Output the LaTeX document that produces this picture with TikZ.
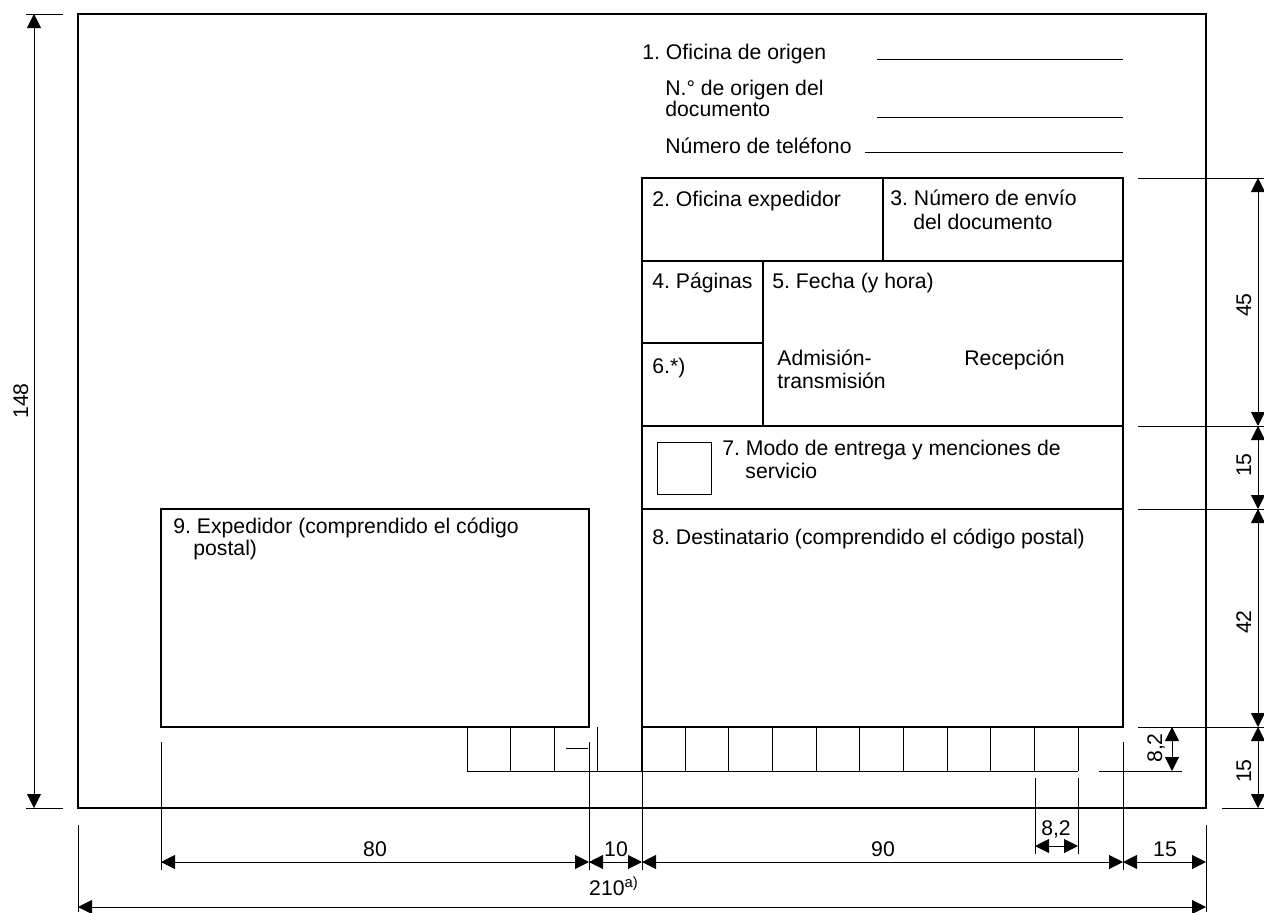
\documentclass[tikz,border=0pt]{standalone}
\usepackage{fontspec}
\setmainfont{Liberation Sans}
\usetikzlibrary{arrows.meta}
\frenchspacing
\begin{document}
\begin{tikzpicture}[x=0.5pt,y=-0.5pt,
  lbl/.style={anchor=base west, inner sep=0pt, font=\fontsize{10.6}{11.75}\selectfont},
  dimlbl/.style={anchor=base, inner sep=0pt, font=\fontsize{10.6}{11.75}\selectfont},
  vdimlbl/.style={dimlbl, rotate=90},
  box/.style={line width=0.65pt},
  thin/.style={line width=0.45pt},
  dim/.style={line width=0.45pt, {Triangle[length=7pt,width=7pt]}-{Triangle[length=7pt,width=7pt]}},
]
\useasboundingbox (0,0) rectangle (1264,912);
% sheet
\draw[box] (78,14) rectangle (1206,808);

% header lines
\node[lbl] (t1) at (642,59) {1. Oficina de origen};
\draw[thin] (877,59) -- (1123,59);
\node[lbl] (t1b) at (665,95) {N.° de origen del};
\node[lbl] (t1c) at (665,116) {documento};
\draw[thin] (877,117) -- (1123,117);
\node[lbl] (t1d) at (665,153) {Número de teléfono};
\draw[thin] (865,152) -- (1123,152);

% form boxes
\draw[box] (642,178) rectangle (1123,509);
\draw[box] (642,261) -- (1123,261);
\draw[box] (883,178) -- (883,261);
\draw[box] (763,261) -- (763,426);
\draw[box] (642,343) -- (763,343);
\draw[box] (642,426) -- (1123,426);
\draw[thin] (657,442) rectangle (711,494);
\draw[box] (642,509) rectangle (1123,727);
\draw[box] (161,509) rectangle (589,727);

% texts in boxes
\node[lbl] (t2) at (652,206) {2. Oficina expedidor};
\node[lbl] (t3a) at (890,205) {3. Número de envío};
\node[lbl] (t3b) at (913,229) {del documento};
\node[lbl] (t4) at (652,288) {4. Páginas};
\node[lbl] (t5) at (772,288) {5. Fecha (y hora)};
\node[lbl] (t6) at (652,373) {6.*)};
\node[lbl] (t5a) at (777,365) {Admisión-};
\node[lbl] (t5b) at (777,388) {transmisión};
\node[lbl] (t5c) at (964,365) {Recepción};
\node[lbl] (t7a) at (722,455) {7. Modo de entrega y menciones de};
\node[lbl] (t7b) at (745,478) {servicio};
\node[lbl] (t8) at (652,544) {8. Destinatario (comprendido el código postal)};
\node[lbl] (t9a) at (173,533) {9. Expedidor (comprendido el código};
\node[lbl] (t9b) at (193,555) {postal)};

% row of squares
\foreach \i in {0,...,14} \draw[thin] ({467+\i*43.64},727) -- ({467+\i*43.64},771);
\draw[thin] (467,771) -- (1078,771);
\draw[thin] (566,748) -- (588,748);

% extension lines
\draw[thin] (161,742) -- (161,870);
\draw[thin] (589,742) -- (589,870);
\draw[thin] (642,727) -- (642,870);
\draw[thin] (1123,742) -- (1123,870);
\draw[thin] (1206,825) -- (1206,912);
\draw[thin] (78,825) -- (78,912);
\draw[thin] (1035,778) -- (1035,854);
\draw[thin] (1078,778) -- (1078,854);
\draw[thin] (26,14) -- (63,14);
\draw[thin] (26,808) -- (63,808);
\draw[thin] (1138,178) -- (1264,178);
\draw[thin] (1138,426) -- (1264,426);
\draw[thin] (1138,509) -- (1264,509);
\draw[thin] (1138,727) -- (1264,727);
\draw[thin] (1222,808) -- (1264,808);
\draw[thin] (1099,771) -- (1182,771);

% dimensions
\draw[dim] (34,14) -- (34,808);
\node[vdimlbl] (d148) at (28,401) {148};
\draw[dim] (1258,178) -- (1258,426);
\node[vdimlbl] (d45) at (1251,305) {45};
\draw[dim] (1258,426) -- (1258,509);
\node[vdimlbl] (d15a) at (1251,465) {15};
\draw[dim] (1258,509) -- (1258,727);
\node[vdimlbl] (d42) at (1251,622) {42};
\draw[dim] (1258,727) -- (1258,808);
\node[vdimlbl] (d15b) at (1251,771) {15};
\draw[dim] (1172,727) -- (1172,771);
\node[vdimlbl] (d82v) at (1162,748) {8,2};

\draw[dim] (161,862) -- (589,862);
\node[dimlbl] (d80) at (375,856) {80};
\draw[dim] (589,862) -- (642,862);
\node[dimlbl] (d10) at (616,856) {10};
\draw[dim] (642,862) -- (1123,862);
\node[dimlbl] (d90) at (883,856) {90};
\draw[dim] (1123,862) -- (1206,862);
\node[dimlbl] (d15c) at (1165,856) {15};
\draw[dim] (1035,846) -- (1078,846);
\node[dimlbl] (d82h) at (1056,835) {8,2};
\draw[dim] (78,907) -- (1206,907);
\node[dimlbl] (d210) at (614,895) {210\textsuperscript{a)}};
\end{tikzpicture}
\end{document}
